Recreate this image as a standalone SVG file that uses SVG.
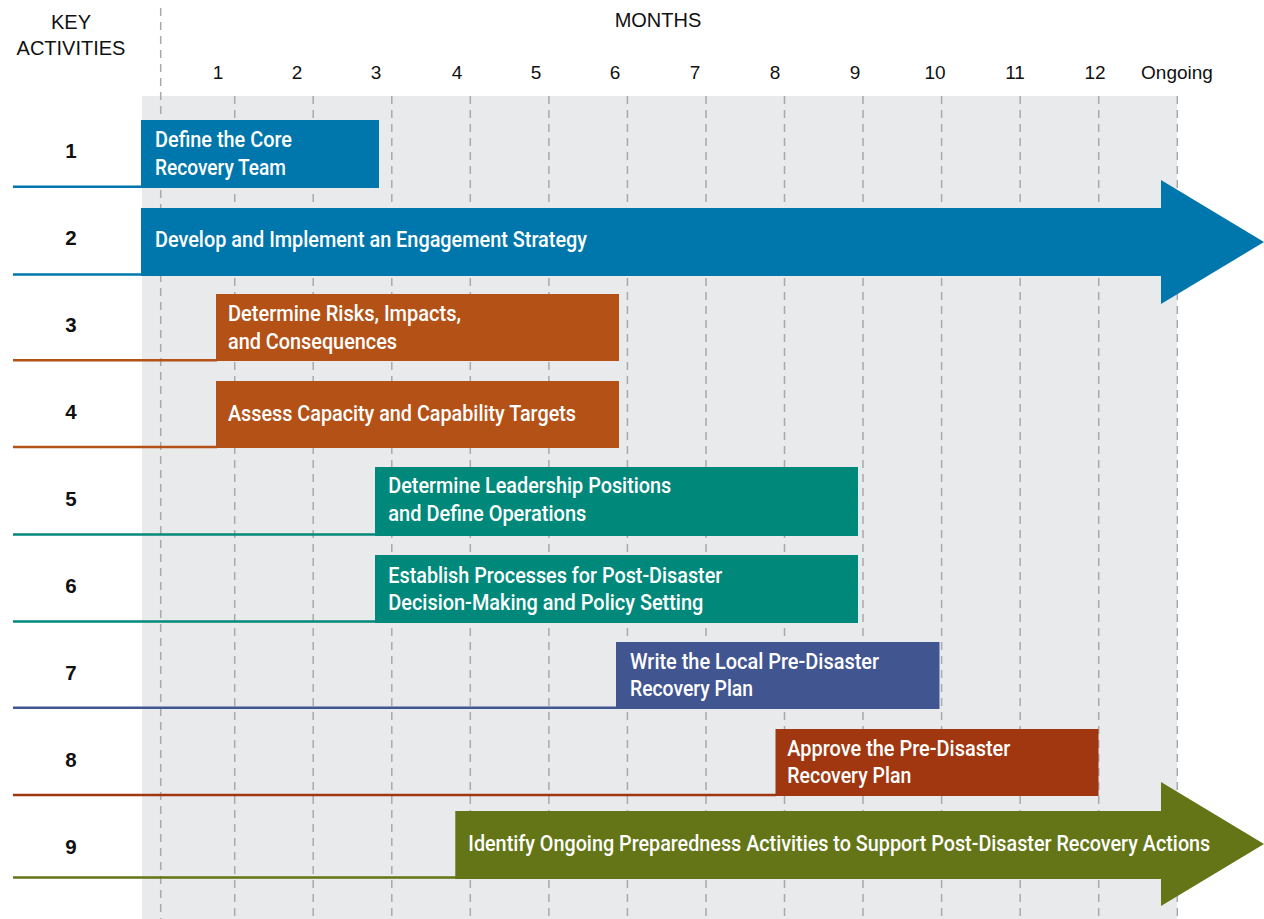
<svg xmlns="http://www.w3.org/2000/svg" width="1264" height="919" viewBox="0 0 1264 919">
<style>
.hdr{font-family:"Liberation Sans",Arial,sans-serif;font-size:20px;fill:#111;text-anchor:middle}
.mon{font-family:"Liberation Sans",Arial,sans-serif;font-size:19px;fill:#111;text-anchor:middle}
.num{font-family:"Liberation Sans",Arial,sans-serif;font-size:20.5px;font-weight:bold;fill:#111;text-anchor:middle}
.lbl{font-family:Roboto,"Liberation Sans",sans-serif;font-size:21.5px;font-weight:500;fill:#fff}
.grid{stroke:#a9a9ab;stroke-width:1.5;stroke-dasharray:8 6;fill:none}
.ul{stroke-width:2.5;fill:none}
.blue{fill:#0077ac}.blueS{stroke:#0077ac}
.orange{fill:#b45117}.orangeS{stroke:#b45117}
.teal{fill:#00897a}.tealS{stroke:#00897a}
.navy{fill:#415591}.navyS{stroke:#415591}
.rust{fill:#a03710}.rustS{stroke:#a03710}
.olive{fill:#637516}.oliveS{stroke:#637516}
</style>
<rect x="0" y="0" width="1264" height="919" fill="#ffffff"/>
<g id="background">
<rect x="142" y="96" width="1035" height="823" fill="#e9eaec"/>
<line class="grid" x1="160.7" y1="8" x2="160.7" y2="919"/>
<line class="grid" x1="234.7" y1="96" x2="234.7" y2="919"/>
<line class="grid" x1="313.2" y1="96" x2="313.2" y2="919"/>
<line class="grid" x1="391.8" y1="96" x2="391.8" y2="919"/>
<line class="grid" x1="470.3" y1="96" x2="470.3" y2="919"/>
<line class="grid" x1="548.9" y1="96" x2="548.9" y2="919"/>
<line class="grid" x1="627.4" y1="96" x2="627.4" y2="919"/>
<line class="grid" x1="706" y1="96" x2="706" y2="919"/>
<line class="grid" x1="784.5" y1="96" x2="784.5" y2="919"/>
<line class="grid" x1="863" y1="96" x2="863" y2="919"/>
<line class="grid" x1="941.6" y1="96" x2="941.6" y2="919"/>
<line class="grid" x1="1020.2" y1="96" x2="1020.2" y2="919"/>
<line class="grid" x1="1098.7" y1="96" x2="1098.7" y2="919"/>
<line class="grid" x1="1177.3" y1="96" x2="1177.3" y2="919"/>
</g>
<g id="header">
<text class="hdr" x="71" y="29">KEY</text>
<text class="hdr" x="71" y="55">ACTIVITIES</text>
<text class="hdr" x="658" y="27">MONTHS</text>
<text class="mon" x="218" y="79">1</text>
<text class="mon" x="297" y="79">2</text>
<text class="mon" x="376" y="79">3</text>
<text class="mon" x="457" y="79">4</text>
<text class="mon" x="536" y="79">5</text>
<text class="mon" x="615" y="79">6</text>
<text class="mon" x="695" y="79">7</text>
<text class="mon" x="775" y="79">8</text>
<text class="mon" x="855" y="79">9</text>
<text class="mon" x="935" y="79">10</text>
<text class="mon" x="1015" y="79">11</text>
<text class="mon" x="1095" y="79">12</text>
<text class="mon" x="1177" y="79">Ongoing</text>
</g>
<g id="connectors"></g>
<g id="row1">
<text class="num" x="71" y="158">1</text>
<line class="ul blueS" x1="13" y1="186.7" x2="142" y2="186.7"/>
<rect class="blue" x="141" y="120" width="238" height="68"/>
<text class="lbl" x="155" y="147.3" textLength="137" lengthAdjust="spacingAndGlyphs">Define the Core</text>
<text class="lbl" x="155" y="175" textLength="131" lengthAdjust="spacingAndGlyphs">Recovery Team</text>
</g>
<g id="row2">
<text class="num" x="71" y="245">2</text>
<line class="ul blueS" x1="13" y1="274.5" x2="142" y2="274.5"/>
<rect class="blue" x="141" y="208" width="1021" height="68"/>
<polygon class="blue" points="1161,180 1264,242 1161,304"/>
<text class="lbl" x="155" y="247.3" textLength="432" lengthAdjust="spacingAndGlyphs">Develop and Implement an Engagement Strategy</text>
</g>
<g id="row3">
<text class="num" x="71" y="332">3</text>
<line class="ul orangeS" x1="13" y1="360.3" x2="217" y2="360.3"/>
<rect class="orange" x="216" y="294" width="403" height="67"/>
<text class="lbl" x="228" y="321" textLength="233" lengthAdjust="spacingAndGlyphs">Determine Risks, Impacts,</text>
<text class="lbl" x="228" y="348.5" textLength="169" lengthAdjust="spacingAndGlyphs">and Consequences</text>
</g>
<g id="row4">
<text class="num" x="71" y="419">4</text>
<line class="ul orangeS" x1="13" y1="447" x2="217" y2="447"/>
<rect class="orange" x="216" y="381" width="403" height="67"/>
<text class="lbl" x="228" y="421" textLength="348" lengthAdjust="spacingAndGlyphs">Assess Capacity and Capability Targets</text>
</g>
<g id="row5">
<text class="num" x="71" y="506">5</text>
<line class="ul tealS" x1="13" y1="534.5" x2="376" y2="534.5"/>
<rect class="teal" x="375" y="467" width="483" height="69"/>
<text class="lbl" x="388.3" y="493.3" textLength="283" lengthAdjust="spacingAndGlyphs">Determine Leadership Positions</text>
<text class="lbl" x="388.3" y="520.7" textLength="198" lengthAdjust="spacingAndGlyphs">and Define Operations</text>
</g>
<g id="row6">
<text class="num" x="71" y="593">6</text>
<line class="ul tealS" x1="13" y1="621.5" x2="376" y2="621.5"/>
<rect class="teal" x="375" y="555" width="483" height="68"/>
<text class="lbl" x="388.3" y="583.3" textLength="334" lengthAdjust="spacingAndGlyphs">Establish Processes for Post-Disaster</text>
<text class="lbl" x="388.3" y="610.3" textLength="315" lengthAdjust="spacingAndGlyphs">Decision-Making and Policy Setting</text>
</g>
<g id="row7">
<text class="num" x="71" y="680">7</text>
<line class="ul navyS" x1="13" y1="707.8" x2="617" y2="707.8"/>
<rect class="navy" x="616" y="642" width="323.5" height="67"/>
<text class="lbl" x="630" y="668.5" textLength="249" lengthAdjust="spacingAndGlyphs">Write the Local Pre-Disaster</text>
<text class="lbl" x="630" y="695.5" textLength="123" lengthAdjust="spacingAndGlyphs">Recovery Plan</text>
</g>
<g id="row8">
<text class="num" x="71" y="767">8</text>
<line class="ul rustS" x1="13" y1="795" x2="776" y2="795"/>
<rect class="rust" x="775.5" y="729" width="323" height="67"/>
<text class="lbl" x="787.3" y="755.5" textLength="223" lengthAdjust="spacingAndGlyphs">Approve the Pre-Disaster</text>
<text class="lbl" x="787.3" y="782.5" textLength="124" lengthAdjust="spacingAndGlyphs">Recovery Plan</text>
</g>
<g id="row9">
<text class="num" x="71" y="854">9</text>
<line class="ul oliveS" x1="13" y1="877.5" x2="456" y2="877.5"/>
<path class="olive" d="M455.3,811 H1161 V782 L1264,844 L1161,906 V879 H455.3 Z"/>
<text class="lbl" x="468.3" y="850.7" textLength="742" lengthAdjust="spacingAndGlyphs">Identify Ongoing Preparedness Activities to Support Post-Disaster Recovery Actions</text>
</g>
</svg>
